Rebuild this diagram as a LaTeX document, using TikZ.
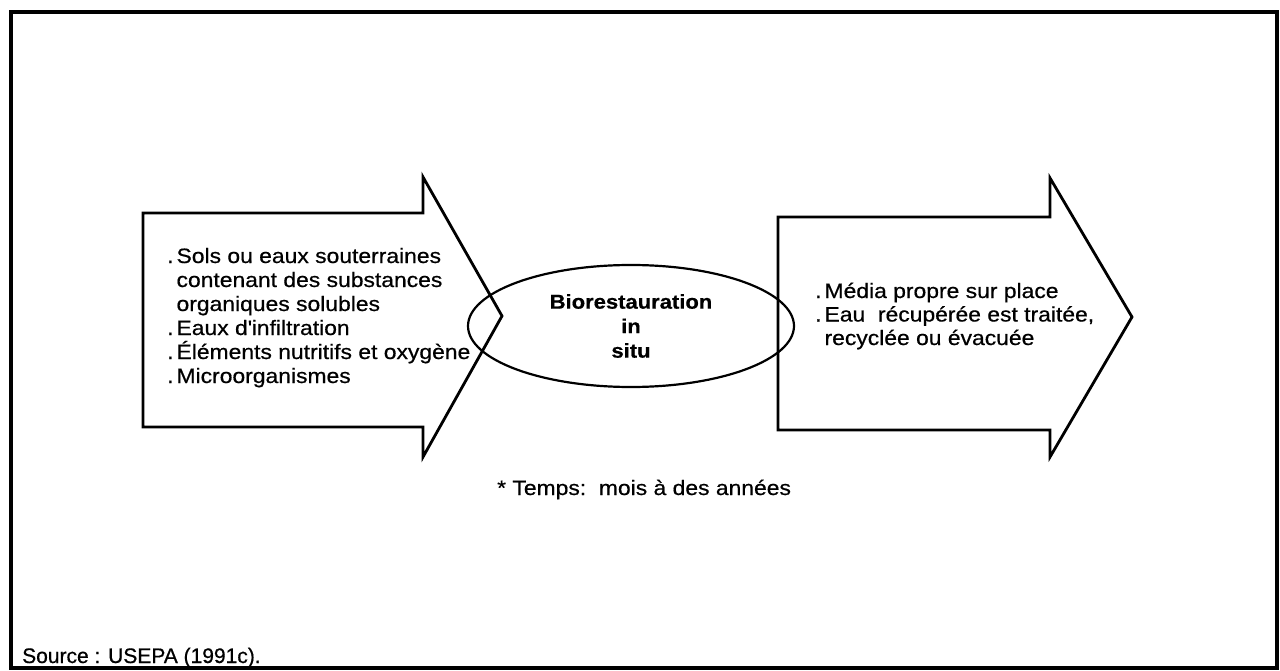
\documentclass[tikz,border=0pt]{standalone}
\usepackage{fontspec}
\setmainfont[FakeStretch=1.1,FakeBold=0.6]{Liberation Sans}
\newfontfamily\srcfont[FakeBold=0.6]{Liberation Sans}
\usetikzlibrary{shapes}
\newcommand{\itemdot}{.\kern3pt}
\newcommand{\itemgap}{\phantom{.}\kern3pt}

\begin{document}
\begin{tikzpicture}[x=1pt,y=-1pt,
	bigarrow/.style={line width=2.8pt,line join=miter},
	txt/.style={font=\fontsize{20.8}{24}\selectfont,align=left,inner sep=0pt,anchor=base west},
	bio/.style={ellipse,draw,line width=2.2pt,minimum width=326pt,minimum height=122pt,inner sep=0pt,font=\fontsize{20}{24.5}\selectfont\bfseries,align=center}]
		\useasboundingbox (0,0) rectangle (1280,671);
		\draw[line width=3.2pt] (11,12) rectangle (1277,668);
		\draw[bigarrow] (143,213) -- (423,213) -- (423,177) -- (502,316) -- (423,457) -- (423,427) -- (143,427) -- cycle;
		\draw[bigarrow] (778,217) -- (1050,217) -- (1050,178) -- (1132,317) -- (1050,457) -- (1050,430) -- (778,430) -- cycle;
		\node (bio)[bio] at (631,326) {Biorestauration\\in\\situ};
		\node (entrees)[txt] at (167,383) {\itemdot Sols ou eaux souterraines\\\itemgap contenant des substances\\\itemgap organiques solubles\\\itemdot Eaux d\textquotesingle infiltration\\\itemdot Éléments nutritifs et oxygène\\\itemdot Microorganismes};
		\node (sorties)[txt,font=\fontsize{20.8}{23.5}\selectfont] at (815,345) {\itemdot Média propre sur place\\\itemdot Eau\ \ récupérée est traitée,\\\itemgap recyclée ou évacuée};
		\node (temps)[txt] at (497,495) {* Temps:\ \ mois à des années};
		\node (source)[txt,font=\srcfont\fontsize{21}{24}\selectfont] at (22,663) {Source : USEPA (1991c).};
\end{tikzpicture}
\end{document}
